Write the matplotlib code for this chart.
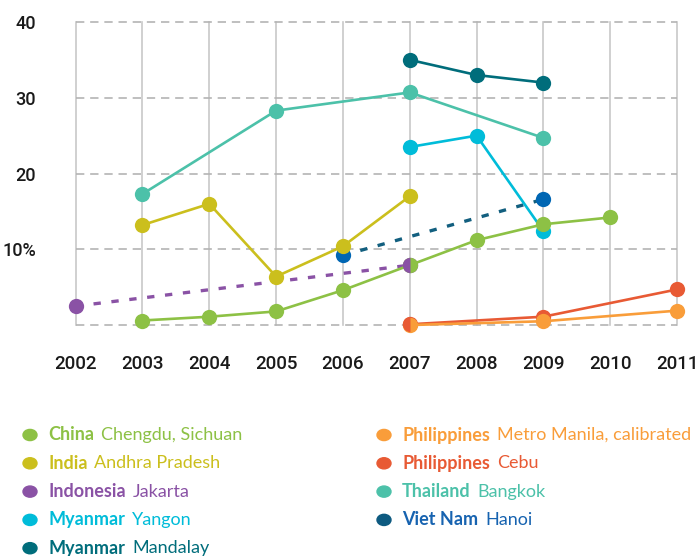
import matplotlib
matplotlib.use("Agg")
import matplotlib.pyplot as plt
import numpy as np

# ---- data (percent) ----
years = [2002, 2003, 2004, 2005, 2006, 2007, 2008, 2009, 2010, 2011]

china_x = [2003, 2004, 2005, 2006, 2007, 2008, 2009, 2010]
china_y = [0.6, 1.1, 1.8, 4.6, 7.9, 11.2, 13.3, 14.2]

india_x = [2003, 2004, 2005, 2006, 2007]
india_y = [13.2, 16.0, 6.4, 10.4, 17.0]

indonesia_x = [2002, 2007]
indonesia_y = [2.5, 7.9]

yangon_x = [2007, 2008, 2009]
yangon_y = [23.5, 25.0, 12.4]

mandalay_x = [2007, 2008, 2009]
mandalay_y = [35.0, 33.0, 32.0]

manila_x = [2007, 2009, 2011]
manila_y = [0.0, 0.5, 1.9]

cebu_x = [2007, 2009, 2011]
cebu_y = [0.1, 1.1, 4.7]

thailand_x = [2003, 2005, 2007, 2009]
thailand_y = [17.3, 28.3, 30.7, 24.7]

vietnam_x = [2006, 2009]
vietnam_y = [9.2, 16.6]

y_ticks = [10, 20, 30, 40]
y_labels = ["10%", "20", "30", "40"]

legend_left = [
    ("China", "Chengdu, Sichuan", "#8dc145", "#8dc145"),
    ("India", "Andhra Pradesh", "#cbbf1d", "#cbbf1d"),
    ("Indonesia", "Jakarta", "#8a52a5", "#8a52a5"),
    ("Myanmar", "Yangon", "#00bcd9", "#00bcd9"),
    ("Myanmar", "Mandalay", "#006d7b", "#006d7b"),
]
legend_right = [
    ("Philippines", "Metro Manila, calibrated", "#f99d3a", "#f99d3a"),
    ("Philippines", "Cebu", "#e85a34", "#e85a34"),
    ("Thailand", "Bangkok", "#4cc1a9", "#4cc1a9"),
    ("Viet Nam", "Hanoi", "#0d5a80", "#1763b0"),
]

# ---- figure ----
W, H = 698, 556
fig = plt.figure(figsize=(W / 100, H / 100), dpi=100)
ax = fig.add_axes([62.3 / W, 1 - 340.2 / H, (690.4 - 62.3) / W, (340.2 - 14.4) / H])
ax.set_xlim(2001.8, 2011.2)
ax.set_ylim(-2, 41)
for s in ax.spines.values():
    s.set_visible(False)

# grid
for yr in years:
    ax.plot([yr, yr], [0, 40], color="#c8c8c8", lw=1.2, zorder=1)
for v in [0] + y_ticks:
    ax.plot([years[0], years[-1]], [v, v], color="#b4b4b4", lw=1.2,
            dashes=(5, 3.5), zorder=1)

tick_font = ["Roboto", "DejaVu Sans"]
ax.set_yticks(y_ticks)
ax.set_yticklabels(y_labels, fontsize=13, family=tick_font, fontweight="medium",
                   color="#1a1a1a")
ax.set_xticks(years)
ax.set_xticklabels([str(y) for y in years], fontsize=13.5, family=tick_font,
                   fontweight="medium", color="#1a1a1a")
ax.tick_params(axis="y", length=0, pad=19)
ax.tick_params(axis="x", length=0, pad=11)

lw = 1.9
ms = 11
kw = dict(lw=lw, marker="o", ms=ms, mew=0, clip_on=False)

ax.plot(vietnam_x, vietnam_y, color="#125f7f", ls=(0, (2.2, 3.2)), lw=2.4, zorder=2,
        clip_on=False)
ax.plot(vietnam_x, vietnam_y, ls="none", marker="o", ms=ms, mew=0,
        color="#0066b3", zorder=2, clip_on=False)
ax.plot(yangon_x, yangon_y, color="#00bcd9", zorder=3, **kw)
ax.plot(mandalay_x, mandalay_y, color="#006d7b", zorder=3, **kw)
ax.plot(thailand_x, thailand_y, color="#4cc1a9", zorder=3, **kw)
ax.plot(indonesia_x, indonesia_y, color="#8a52a5", ls=(0, (2.2, 3.2)), lw=2.4,
        zorder=3, clip_on=False)
ax.plot(indonesia_x, indonesia_y, ls="none", marker="o", ms=ms, mew=0,
        color="#8a52a5", zorder=3, clip_on=False)
ax.plot(india_x, india_y, color="#cbbf1d", zorder=4, **kw)
ax.plot(china_x, china_y, color="#8dc145", zorder=5, **kw)
ax.plot(cebu_x, cebu_y, color="#e85a34", zorder=5, **kw)
ax.plot(manila_x, manila_y, color="#f99d3a", zorder=6, **kw)
# shared points drawn as half markers
ax.plot(indonesia_x[-1:], indonesia_y[-1:], ls="none", marker="o", ms=ms, mew=0,
        fillstyle="left", color="#8a52a5", zorder=7, clip_on=False)
ax.plot(cebu_x[:1], cebu_y[:1], ls="none", marker="o", ms=ms, mew=0,
        fillstyle="left", color="#e85a34", zorder=7, clip_on=False)

# ---- legend (manual) ----
leg_font = ["Lato", "DejaVu Sans"]
fig.canvas.draw()
renderer = fig.canvas.get_renderer()


def legend_column(entries, x_marker, x_text):
    for i, (country, city, mcol, tcol) in enumerate(entries):
        y = 1 - (435 + 28.3 * i) / H
        fig.patches.append(plt.Circle((x_marker / W, y), 7 / W, color=mcol,
                                      transform=fig.transFigure, figure=fig))
        t = fig.text(x_text / W, y, country, fontsize=13, fontweight="bold",
                     family=leg_font, color=tcol, va="center", ha="left")
        bb = t.get_window_extent(renderer)
        fig.text((bb.x1 + 7) / W, y, city, fontsize=13, family=leg_font,
                 color=tcol, va="center", ha="left")


legend_column(legend_left, 30, 48)
legend_column(legend_right, 384, 402)

fig.savefig("out.png", dpi=100)
